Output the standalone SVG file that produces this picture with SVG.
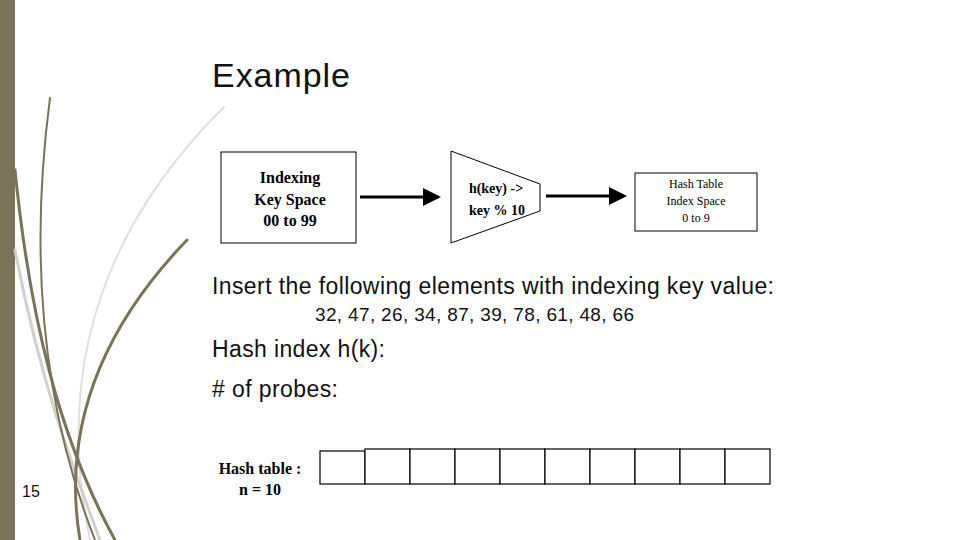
<svg xmlns="http://www.w3.org/2000/svg" width="960" height="540" viewBox="0 0 960 540">
<defs><marker id="ah" markerWidth="6" markerHeight="6" refX="5" refY="3" orient="auto" markerUnits="strokeWidth"><path d="M0,0 L6,3 L0,6 Z" fill="#000"/></marker>
<style>.b{fill:#fff;stroke:#000;stroke-width:1}.s{font-family:"Liberation Serif",serif;font-weight:bold;text-anchor:middle}.a{font-family:"Liberation Sans",Arial,sans-serif;fill:#111}.c{fill:none;stroke-linecap:round}</style></defs>
<rect width="960" height="540" fill="#fff"/>
<rect x="0" y="0" width="15" height="540" fill="#7a7358"/>
<g id="decor">
<path class="c" d="M224,107 C120,210 50,350 90,540" stroke="#e0e0e0" stroke-width="2"/>
<path class="c" d="M15,250 C40,380 70,460 100,540" stroke="#d0d0cc" stroke-width="3"/>
<path class="c" d="M50,98 C30,250 40,400 95,540" stroke="#7a7358" stroke-width="2"/>
<path class="c" d="M15,170 C30,320 60,440 115,540" stroke="#7a7358" stroke-width="3"/>
<path class="c" d="M187,240 C110,320 60,420 80,540" stroke="#7a7358" stroke-width="3"/>
</g>
<text class="a" x="212" y="87" font-size="34" textLength="138">Example</text>
<g id="connectors">
<line x1="360" y1="197" x2="438" y2="197" stroke="#000" stroke-width="3" marker-end="url(#ah)"/>
<line x1="546" y1="196" x2="624" y2="196" stroke="#000" stroke-width="3" marker-end="url(#ah)"/>
</g>
<g id="keyspace"><rect class="b" x="221" y="152" width="135" height="91"/>
<text class="s" font-size="16"><tspan x="290" y="183">Indexing</tspan><tspan x="290" y="205">Key Space</tspan><tspan x="290" y="226">00 to 99</tspan></text></g>
<g id="hashfn"><polygon class="b" points="451,151 540,184 540,211 451,243"/>
<text class="s" font-size="14"><tspan x="496" y="193">h(key) -&gt;</tspan><tspan x="497" y="215">key % 10</tspan></text></g>
<g id="indexspace"><rect class="b" x="635" y="173" width="122" height="58"/>
<text class="s" font-size="12" style="font-weight:normal"><tspan x="696" y="188">Hash Table</tspan><tspan x="696" y="205">Index Space</tspan><tspan x="696" y="222">0 to 9</tspan></text></g>
<text class="a" x="212" y="294" font-size="23" textLength="562">Insert the following elements with indexing key value:</text>
<text class="a" x="315" y="321" font-size="19" textLength="319">32, 47, 26, 34, 87, 39, 78, 61, 48, 66</text>
<text class="a" x="212" y="357" font-size="23" textLength="173">Hash index h(k):</text>
<text class="a" x="212" y="397" font-size="23" textLength="126"># of probes:</text>
<text class="a" x="22" y="497" font-size="16">15</text>
<g id="hashtable-label"><text class="s" font-size="16"><tspan x="260" y="474">Hash table :</tspan><tspan x="260" y="495">n = 10</tspan></text></g>
<g id="hashtable" fill="#fff" stroke="#000" stroke-width="1.2">
<rect x="320" y="451" width="45" height="33"/><rect x="365" y="449" width="45" height="35"/><rect x="410" y="449" width="45" height="35"/><rect x="455" y="449" width="45" height="35"/><rect x="500" y="449" width="45" height="35"/><rect x="545" y="449" width="45" height="35"/><rect x="590" y="449" width="45" height="35"/><rect x="635" y="449" width="45" height="35"/><rect x="680" y="449" width="45" height="35"/><rect x="725" y="449" width="45" height="35"/>
</g>
</svg>
